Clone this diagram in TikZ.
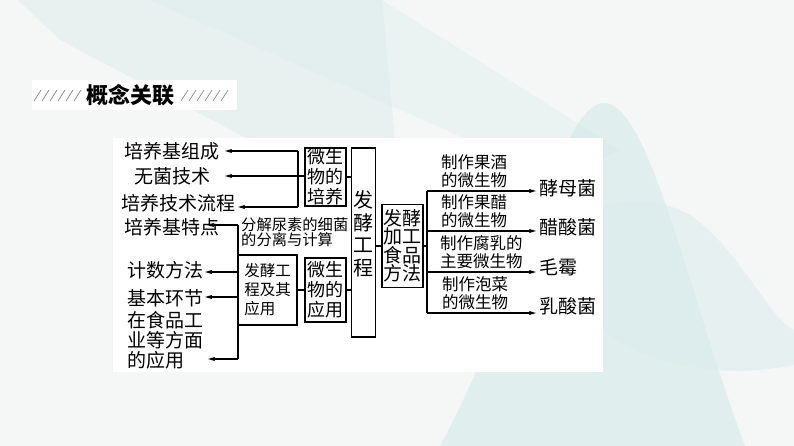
\documentclass[tikz,border=0pt]{standalone}
\usepackage{fontspec}
\setmainfont{Noto Sans CJK SC}
\usetikzlibrary{arrows.meta}
\newcommand\fz[2]{\fontsize{#1pt}{#2pt}\selectfont}
\definecolor{bgbase}{HTML}{F5F6F6}
\definecolor{tealA}{HTML}{DCECEC}
\definecolor{tealB}{HTML}{D3E9EA}
\definecolor{slashc}{HTML}{888888}
\begin{document}
\begin{tikzpicture}[x=1pt,y=-1pt,
  ln/.style={line width=1.2pt},
  arr/.style={line width=1.2pt,-{Stealth[length=7pt,width=4pt,inset=1.5pt]}},
  box/.style={draw,line width=1.2pt,inner sep=0pt,align=center},
  big/.style={inner sep=0pt,font=\fz{19}{20}},
  small/.style={inner sep=0pt,font=\fz{16.5}{18}},
  slash/.style={slashc,line width=0.7pt}]
\useasboundingbox (0,0) rectangle (794,446);
% background
\fill[bgbase] (0,0) rectangle (794,446);
\fill[tealA,opacity=0.5] (18,0) -- (382,0) -- (395,140) -- (250,140) -- (60,40) -- cycle;
\fill[tealA,opacity=0.4] (150,0) -- (382,0) -- (620,150) -- (560,180) -- cycle;
\fill[tealB,opacity=0.6] (440,446) .. controls (520,300) and (560,100) .. (605,103)
   .. controls (650,106) and (690,300) .. (745,446) -- cycle;
\fill[tealA,opacity=0.6] (520,260) .. controls (580,200) and (640,188) .. (690,215)
   .. controls (740,250) and (770,320) .. (794,330) -- (794,365)
   .. controls (720,380) and (650,365) .. (600,330) -- cycle;
% title
\fill[white] (32,80) rectangle (237,110);
\node[inner sep=0pt,font=\fz{22}{22}\bfseries] (title) at (130,95) {概念关联};
\foreach \i in {0,...,5}{
  \draw[slash] ({34+8*\i},101) -- ({41+8*\i},90);
  \draw[slash] ({181+8*\i},101) -- ({188+8*\i},90);
}
% panel
\fill[white] (113,138) rectangle (603,372);
% boxes
\node[box,font=\fz{18}{20},minimum width=41,minimum height=58] (pb) at (325.5,177) {微生\\物的\\培养};
\node[box,minimum width=24,minimum height=189] (fj) at (363.5,242.5) {};
\node[inner sep=0pt,align=center,font=\fz{20}{22.5}] (fjt) at (363.5,234) {发\\酵\\工\\程};
\node[box,font=\fz{18}{20},minimum width=41,minimum height=64] (yy) at (325.5,290) {微生\\物的\\应用};
\node[box,font=\fz{15.5}{19},align=left,minimum width=59,minimum height=70] (fjy) at (267.5,290) {发酵工\\程及其\\应用};
\node[box,font=\fz{19}{18.5},minimum width=41,minimum height=83] (jg) at (402.5,246) {发酵\\加工\\食品\\方法};
% left texts
\node[big,anchor=west] (l1) at (124,151) {培养基组成};
\node[big,anchor=west] (l2) at (134,176) {无菌技术};
\node[big,anchor=west] (l3) at (121,203) {培养技术流程};
\node[big,anchor=west] (l4) at (124,227) {培养基特点};
\node[big,anchor=west] (l5) at (127,270) {计数方法};
\node[big,anchor=west] (l6) at (127,298) {基本环节};
\node[big,anchor=west,align=left] (l7) at (127,340) {在食品工\\业等方面\\的应用};
\node[inner sep=0pt,anchor=west,align=left,font=\fz{15.3}{15.5}] (fx) at (241,232) {分解尿素的细菌\\的分离与计算};
% right texts
\node[small,anchor=west,align=left] (m1) at (441,171) {制作果酒\\的微生物};
\node[small,anchor=west,align=left] (m2) at (441,211) {制作果醋\\的微生物};
\node[small,anchor=west,align=left] (m3) at (440,252.5) {制作腐乳的\\主要微生物};
\node[small,anchor=west,align=left] (m4) at (442,293.5) {制作泡菜\\的微生物};
\node[big,anchor=west] (r1) at (539,188) {酵母菌};
\node[big,anchor=west] (r2) at (539,227) {醋酸菌};
\node[big,anchor=west] (r3) at (539,267) {毛霉};
\node[big,anchor=west] (r4) at (539,306) {乳酸菌};
% coordinates
\coordinate (a1) at (225,151);
\coordinate (a2) at (225,176);
\coordinate (a3) at (238,207);
\coordinate (a4) at (207,225);
\coordinate (a5) at (205,272);
\coordinate (a6) at (205,297);
\coordinate (a7) at (208,359);
\coordinate (pv1) at (298,151);
\coordinate (pv2) at (298,207);
\coordinate (fv1) at (238,225);
\coordinate (fv2) at (238,359);
\coordinate (rt) at (427,191);
\coordinate (rb) at (427,313);
\coordinate (b1) at (536,191);
\coordinate (b2) at (536,231);
\coordinate (b3) at (536,272);
\coordinate (b4) at (536,313);
% connectors
\draw[ln] (pb.east) -- (pb.east -| fj.west);
\draw[ln] (yy.east) -- (yy.east -| fj.west);
\draw[ln] (fjy.east) -- (yy.west);
\draw[ln] (fj.east |- jg.west) -- (jg.west);
\draw[ln] (jg.east) -- (jg.east -| rt);
\draw[ln] (pv1) -- (pv2);
\draw[arr] (pv1) -- (a1);
\draw[arr] (pb.west |- a2) -- (a2);
\draw[arr] (pv2) -- (a3);
\draw[ln] (fv1) -- (fv2);
\draw[arr] (fv1) -- (a4);
\draw[arr] (fjy.west |- a5) -- (a5);
\draw[arr] (fjy.west |- a6) -- (a6);
\draw[arr] (fv2) -- (a7);
\draw[ln] (rt) -- (rb);
\draw[arr] (rt) -- (b1);
\draw[arr] (rt |- b2) -- (b2);
\draw[arr] (rt |- b3) -- (b3);
\draw[arr] (rb) -- (b4);
\end{tikzpicture}
\end{document}
